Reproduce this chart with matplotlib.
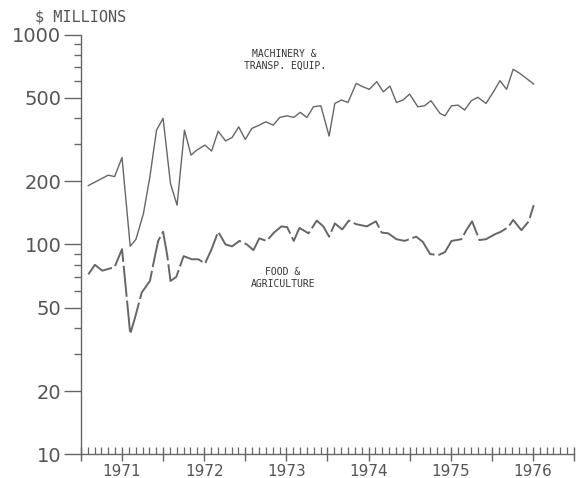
import matplotlib.pyplot as plt
from matplotlib.ticker import FixedLocator, FuncFormatter, NullFormatter

# monthly values (decimal year, $ millions)
mach_t = [1971.09, 1971.33, 1971.41, 1971.50, 1971.60, 1971.67, 1971.76, 1971.84,
          1971.92, 1972.00, 1972.09, 1972.17, 1972.26, 1972.34, 1972.41, 1972.51,
          1972.59, 1972.67, 1972.76, 1972.84, 1972.92, 1973.00, 1973.08, 1973.17,
          1973.25, 1973.34, 1973.42, 1973.51, 1973.59, 1973.67, 1973.75, 1973.83,
          1973.92, 1974.02, 1974.09, 1974.17, 1974.25, 1974.35, 1974.43, 1974.51,
          1974.60, 1974.68, 1974.76, 1974.84, 1974.92, 1975.00, 1975.10, 1975.18,
          1975.26, 1975.37, 1975.43, 1975.51, 1975.59, 1975.67, 1975.75, 1975.83,
          1975.93, 1976.02, 1976.10, 1976.18, 1976.26, 1976.34, 1976.51]
mach_v = [191, 214, 211, 260, 98, 106, 140, 211,
          351, 400, 195, 154, 351, 267, 282, 298,
          279, 347, 312, 324, 364, 317, 358, 371,
          385, 371, 404, 411, 404, 427, 404, 454,
          459, 329, 471, 489, 476, 587, 566, 550,
          598, 535, 570, 476, 489, 522, 454, 459,
          485, 422, 411, 459, 462, 438, 485, 504,
          471, 535, 605, 550, 685, 656, 583]

food_t = [1971.09, 1971.17, 1971.26, 1971.41, 1971.50, 1971.55, 1971.60, 1971.66,
          1971.74, 1971.84, 1971.89, 1971.94, 1972.00, 1972.05, 1972.09, 1972.16,
          1972.25, 1972.35, 1972.43, 1972.51, 1972.59, 1972.67, 1972.76, 1972.84,
          1972.93, 1973.02, 1973.10, 1973.17, 1973.26, 1973.35, 1973.44, 1973.51,
          1973.59, 1973.66, 1973.77, 1973.87, 1973.95, 1974.02, 1974.09, 1974.18,
          1974.26, 1974.35, 1974.48, 1974.59, 1974.66, 1974.74, 1974.84, 1974.94,
          1975.08, 1975.16, 1975.25, 1975.35, 1975.43, 1975.51, 1975.63, 1975.69,
          1975.76, 1975.85, 1975.93, 1976.04, 1976.11, 1976.20, 1976.26, 1976.36,
          1976.45, 1976.51]
food_v = [72, 80, 75, 78, 95, 60, 37.4, 45,
          59, 67, 84, 104, 115, 89, 67, 70,
          88, 85, 85, 81, 95, 115, 100, 98,
          104, 100, 94, 107, 104, 114, 122, 121,
          104, 120, 113, 130, 122, 109, 126, 118,
          130, 125, 122, 129, 114, 113, 106, 104,
          109, 103, 90, 89, 92, 104, 106, 117,
          129, 105, 106, 112, 115, 121, 131, 117,
          129, 154]

ytick_vals = [10, 20, 50, 100, 200, 500, 1000]
years = [1971, 1972, 1973, 1974, 1975, 1976]

grey = '#666666'
txt = '#555555'
plt.rcParams['font.family'] = ['DejaVu Sans']

fig = plt.figure(figsize=(5.78, 4.78), dpi=100)
ax = fig.add_axes([0.140, 0.050, 0.853, 0.877])

ax.plot(mach_t, mach_v, color=grey, lw=1.0)
ax.plot(food_t, food_v, color=grey, lw=1.4, dashes=(16, 2))

ax.set_yscale('log')
ax.set_ylim(10, 1000)
ax.set_xlim(1971.0, 1977.0)

for s in ['top', 'right']:
    ax.spines[s].set_visible(False)
for s in ['left', 'bottom']:
    ax.spines[s].set_color(grey)
    ax.spines[s].set_linewidth(1.0)

# y axis: labelled decades and 2/5, minor ticks between
ax.yaxis.set_major_locator(FixedLocator(ytick_vals))
ax.yaxis.set_major_formatter(FuncFormatter(lambda v, p: '%d' % v))
minor_y = [m * d for d in (10, 100) for m in range(2, 10)]
ax.yaxis.set_minor_locator(FixedLocator(minor_y))
ax.yaxis.set_minor_formatter(NullFormatter())
ax.tick_params(axis='y', which='major', direction='out', length=12, width=1.0,
               color=grey, labelcolor=txt, labelsize=14, pad=2)
ax.tick_params(axis='y', which='minor', direction='out', length=5, width=1.0, color=grey)

# x axis: half-year ticks, year labels at mid-year, monthly minor ticks
half = [1971 + 0.5 * i for i in range(13)]
ax.xaxis.set_major_locator(FixedLocator(half))
ax.xaxis.set_major_formatter(FuncFormatter(
    lambda v, p: str(int(v)) if abs(v - int(v) - 0.5) < 0.01 and int(v) in years else ''))
ax.xaxis.set_minor_locator(FixedLocator([1971 + i / 12 for i in range(73)]))
ax.tick_params(axis='x', which='major', direction='inout', length=10, width=1.0,
               color=grey, labelcolor=txt, labelsize=11, pad=2)
ax.tick_params(axis='x', which='minor', direction='in', length=5, width=0.9, color=grey)

ax.text(1973.48, 760, 'MACHINERY &\nTRANSP. EQUIP.', ha='center', va='center',
        fontsize=7, color='#333333', family='DejaVu Sans Mono', linespacing=1.2)
ax.text(1973.46, 69, 'FOOD &\nAGRICULTURE', ha='center', va='center',
        fontsize=7, color='#333333', family='DejaVu Sans Mono', linespacing=1.2)

fig.text(0.06, 0.965, '$ MILLIONS', fontsize=11, color=txt, va='center', ha='left',
         family='DejaVu Sans Mono')

fig.savefig('out.png', dpi=100)
